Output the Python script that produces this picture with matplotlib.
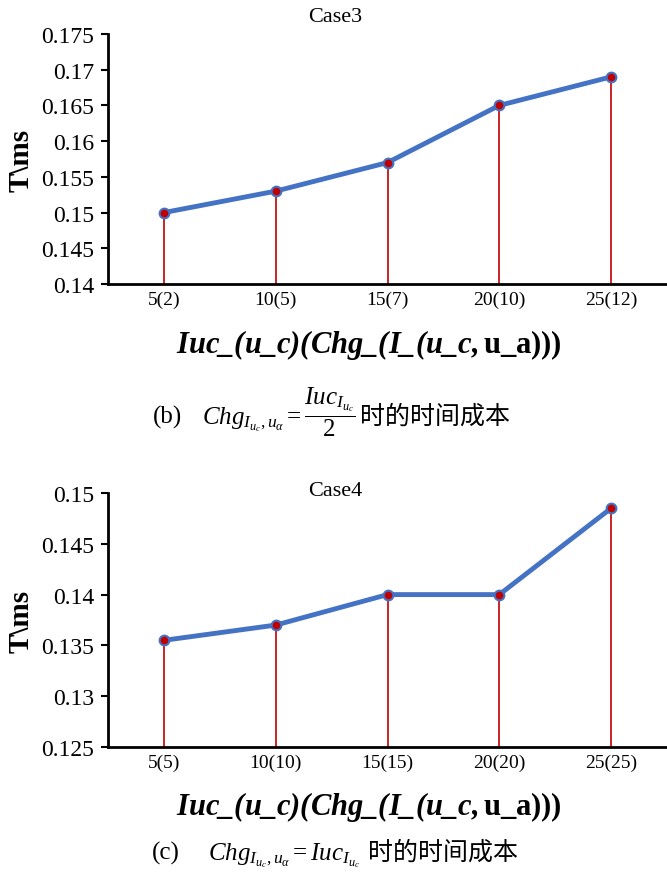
import matplotlib
matplotlib.use("Agg")
import matplotlib.pyplot as plt
from matplotlib.ticker import FuncFormatter, MultipleLocator

plt.rcParams['font.family'] = ['Liberation Serif', 'Noto Sans CJK SC']
plt.rcParams['mathtext.fontset'] = 'custom'
plt.rcParams['mathtext.rm'] = 'Liberation Serif'
plt.rcParams['mathtext.it'] = 'Liberation Serif:italic'
plt.rcParams['mathtext.bf'] = 'Liberation Serif:bold'
plt.rcParams['mathtext.bfit'] = 'Liberation Serif:italic:bold'

cats3 = ["5(2)", "10(5)", "15(7)", "20(10)", "25(12)"]
vals3 = [0.150, 0.153, 0.157, 0.165, 0.169]
cats4 = ["5(5)", "10(10)", "15(15)", "20(20)", "25(25)"]
vals4 = [0.1355, 0.137, 0.140, 0.140, 0.1485]

W, H = 667, 878
fig = plt.figure(figsize=(W / 100, H / 100), dpi=100)

xlabel = r"$\mathbfit{Iuc\_(u\_c)(Chg\_(I\_(u\_c,}\mathbf{u\_a)))}$"


def draw(ax, cats, vals, ylo, yhi, title, title_y, xlabel_y):
    x = list(range(len(cats)))
    ax.vlines(x, ylo, vals, color='#C00000', lw=1.2, zorder=2)
    ax.plot(x, vals, color='#4472C4', lw=3.5, marker='o', ms=7,
            mfc='#C00000', mec='#4472C4', mew=1.5, zorder=3)
    ax.set_xlim(-0.5, len(cats) - 0.5)
    ax.set_ylim(ylo, yhi)
    ax.yaxis.set_major_locator(MultipleLocator(0.005))
    ax.yaxis.set_major_formatter(FuncFormatter(lambda v, p: f"{round(v, 4):g}"))
    ax.set_xticks(x)
    ax.set_xticklabels(cats, fontsize=14)
    ax.tick_params(axis='x', length=0, pad=5)
    ax.tick_params(axis='y', length=5, width=1.5, labelsize=17, pad=5)
    for s in ['top', 'right']:
        ax.spines[s].set_visible(False)
    for s in ['left', 'bottom']:
        ax.spines[s].set_linewidth(2)
    ax.set_ylabel("T\\ms", fontsize=21, fontweight='bold')
    ax.yaxis.set_label_coords(-(108 - 35) / (W - 108), 0.5)
    fig.text(369 / W, 1 - xlabel_y / H, xlabel, ha='center', va='center', fontsize=22)
    fig.text(335 / W, 1 - title_y / H, title, ha='center', va='center', fontsize=16)


ax1 = fig.add_axes([108 / W, 1 - 285 / H, 1 - 108 / W, 250 / H])
draw(ax1, cats3, vals3, 0.14, 0.175, "Case3", 17, 345)

ax2 = fig.add_axes([108 / W, 1 - 748 / H, 1 - 108 / W, 254 / H])
draw(ax2, cats4, vals4, 0.125, 0.15, "Case4", 492, 807)

renderer = fig.canvas.get_renderer()


def caption(pieces, x0_px, base_px):
    x = x0_px
    for txt, fam, size, gap in pieces:
        t = fig.text(x / W, 1 - base_px / H, txt, ha='left', va='baseline',
                     fontsize=size, family=fam)
        bb = t.get_window_extent(renderer)
        x += bb.width + gap


caption([("(b)", 'Liberation Serif', 18, 20),
         (r"$Chg_{I_{u_c},u_\alpha}=\dfrac{Iuc_{I_{u_c}}}{2}$", 'Liberation Serif', 18, 4),
         ("时的时间成本", 'Noto Sans CJK SC', 18, 0)], 153, 424)
caption([("(c)", 'Liberation Serif', 18, 28),
         (r"$Chg_{I_{u_c},u_\alpha}=Iuc_{I_{u_c}}$", 'Liberation Serif', 18, 8),
         ("时的时间成本", 'Noto Sans CJK SC', 18, 0)], 152, 860)

fig.savefig("out.png", dpi=100)
